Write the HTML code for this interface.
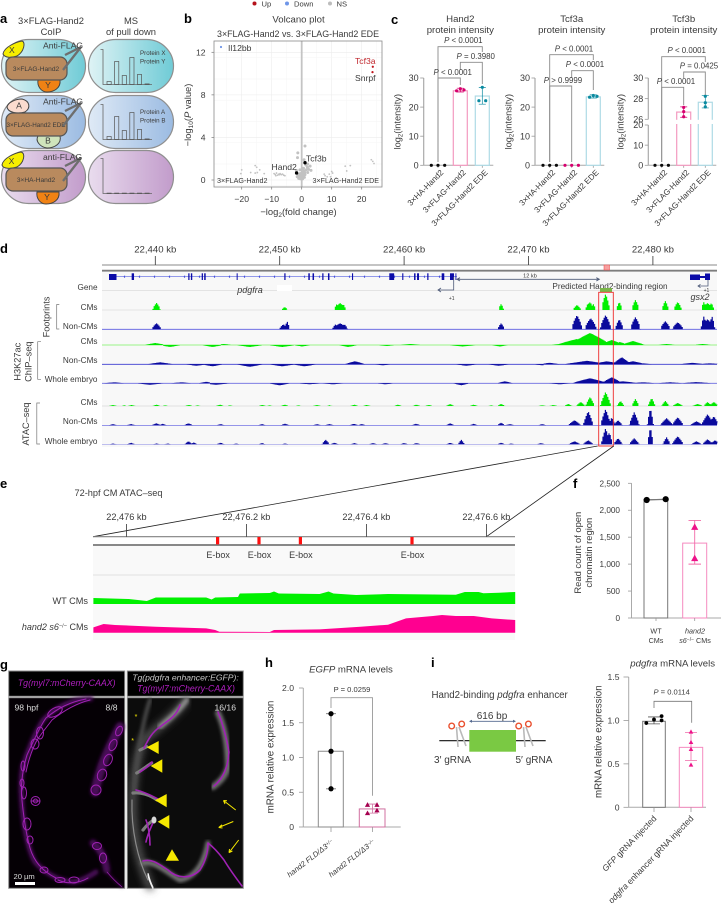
<!DOCTYPE html>
<html lang="en">
<head>
<meta charset="utf-8">
<title>Hand2 pdgfra enhancer figure</title>
<style>
html,body{margin:0;padding:0;background:#fff;width:721px;height:903px;overflow:hidden}
svg{display:block}
text{font-family:"Liberation Sans",Arial,sans-serif;font-size:8.6px;fill:#3a3a3a}
.pl{font-size:13px;font-weight:bold;fill:#000}
.t{font-size:9.4px}
.s{font-size:7.6px}
.m{text-anchor:middle}
.e{text-anchor:end}
.i{font-style:italic}
</style>
</head>
<body>
<svg id="figure" xmlns="http://www.w3.org/2000/svg" width="721" height="903" viewBox="0 0 721 903">
<defs>
<linearGradient id="g1"><stop offset="0" stop-color="#dff3f5"/><stop offset="1" stop-color="#6fcbd6"/></linearGradient>
<linearGradient id="g2"><stop offset="0" stop-color="#dfeaf6"/><stop offset="1" stop-color="#9bbbe2"/></linearGradient>
<linearGradient id="g3"><stop offset="0" stop-color="#e9dcee"/><stop offset="1" stop-color="#c29ccb"/></linearGradient>
<filter id="soft"><feGaussianBlur stdDeviation="0.35"/></filter>
<filter id="soft2"><feGaussianBlur stdDeviation="1.5"/></filter>
<filter id="soft3"><feGaussianBlur stdDeviation="4"/></filter>
</defs>
<rect width="721" height="903" fill="#fff"/>

<text class="pl" x="0" y="23">a</text>
<text class="pl" x="184" y="23">b</text>
<text class="pl" x="391" y="24">c</text>
<text class="pl" x="0" y="253">d</text>
<text class="pl" x="0" y="488">e</text>
<text class="pl" x="573" y="488">f</text>
<text class="pl" x="0" y="669">g</text>
<text class="pl" x="265" y="667">h</text>
<text class="pl" x="431" y="667">i</text>

<!-- PANEL A -->
<g id="panel-a">
<text class="t m" x="51" y="24">3×FLAG-Hand2</text>
<text class="t m" x="51" y="35">CoIP</text>
<text class="t m" x="131" y="24">MS</text>
<text class="t m" x="131" y="35">of pull down</text>

<rect x="1.5" y="39.5" width="84" height="53" rx="27" fill="url(#g1)" stroke="#8f8f8f" stroke-width="1.2"/>
<rect x="88.5" y="39.5" width="85" height="53" rx="27" fill="url(#g1)" stroke="#8f8f8f" stroke-width="1.2"/>
<rect x="1.5" y="95.5" width="84" height="53" rx="27" fill="url(#g2)" stroke="#8f8f8f" stroke-width="1.2"/>
<rect x="88.5" y="95.5" width="85" height="53" rx="27" fill="url(#g2)" stroke="#8f8f8f" stroke-width="1.2"/>
<rect x="1.5" y="150.5" width="84" height="53" rx="27" fill="url(#g3)" stroke="#8f8f8f" stroke-width="1.2"/>
<rect x="88.5" y="150.5" width="85" height="53" rx="27" fill="url(#g3)" stroke="#8f8f8f" stroke-width="1.2"/>

<path d="M3 54C4 47 16 42 22 41C26 42 24 52 17 56C11 58 5 58 3 54Z" fill="#f6ee00" stroke="#444" stroke-width="1"/>
<path d="M38 80H60C61 88 54 92 47 92C41 92 37 86 38 80Z" fill="#f08214" stroke="#444" stroke-width="1"/>
<rect x="6" y="57" width="61" height="23" rx="7" fill="#b98a5e" stroke="#555" stroke-width="1.2"/>
<text class="s m" x="36" y="71" style="font-size:6.6px">3×FLAG-Hand2</text>
<path d="M63 70L81 47L65 55" stroke="#6e6e6e" stroke-width="2.3" fill="none"/>
<text x="43" y="48.5">Anti-FLAG</text>

<path d="M7 107C8 102 16 99 22 99C30 101 31 108 25 112C18 114 8 113 7 107Z" fill="#fbdccf" stroke="#444" stroke-width="1"/>
<path d="M38 136H60C62 144 54 148 47 148C40 147 35 141 38 136Z" fill="#cfe4bb" stroke="#444" stroke-width="1"/>
<rect x="6" y="113" width="61" height="23" rx="7" fill="#b98a5e" stroke="#555" stroke-width="1.2"/>
<text class="s m" x="36" y="127" style="font-size:6.3px">3×FLAG-Hand2 EDE</text>
<path d="M63 126L81 103L65 111" stroke="#6e6e6e" stroke-width="2.3" fill="none"/>
<text x="43" y="104.5">Anti-FLAG</text>

<path d="M2 165C3 158 15 153 21 152C26 153 24 163 17 167C11 169 3 169 2 165Z" fill="#f6ee00" stroke="#444" stroke-width="1"/>
<path d="M37 192H59C60 200 53 204 46 204C40 204 36 198 37 192Z" fill="#f08214" stroke="#444" stroke-width="1"/>
<rect x="6" y="168" width="61" height="23" rx="7" fill="#b98a5e" stroke="#555" stroke-width="1.2"/>
<text class="s m" x="36" y="182" style="font-size:6.6px">3×HA-Hand2</text>
<path d="M63 181L81 158L65 166" stroke="#6e6e6e" stroke-width="2.3" fill="none"/>
<text x="43" y="160">anti-FLAG</text>

<text class="m" x="11.9" y="53">X</text>
<text class="m" x="48" y="88">Y</text>
<text class="m" x="19" y="108.5">A</text>
<text class="m" x="48" y="143.5">B</text>
<text class="m" x="11.5" y="164">X</text>
<text class="m" x="47" y="200">Y</text>

<text class="s" x="140" y="55" style="font-size:6.2px">Protein X</text>
<text class="s" x="140" y="63.5" style="font-size:6.2px">Protein Y</text>
<text class="s" x="140" y="114" style="font-size:6.2px">Protein A</text>
<text class="s" x="140" y="122.5" style="font-size:6.2px">Protein B</text>
</g>

<!-- PANEL B static -->
<g>
<circle cx="254.5" cy="3.5" r="2" fill="#b5121b"/>
<text x="261.5" y="6.5" style="font-size:7.6px">Up</text>
<circle cx="287" cy="3.5" r="2" fill="#6f96e8"/>
<text x="294" y="6.5" style="font-size:7.6px">Down</text>
<circle cx="330" cy="3.5" r="2" fill="#bdbdbd"/>
<text x="336.5" y="6.5" style="font-size:7.6px">NS</text>
</g>
<text class="t m" x="298.5" y="22.5" style="font-size:9.6px">Volcano plot</text>
<text class="t m" x="298" y="37" textLength="162" lengthAdjust="spacingAndGlyphs">3×FLAG-Hand2 vs. 3×FLAG-Hand2 EDE</text>
<text class="t m" transform="translate(191,115) rotate(-90)">−log<tspan dy="2" style="font-size:6.5px">10</tspan><tspan dy="-2">(</tspan><tspan class="i">P</tspan> value)</text>
<text class="t m" x="298.5" y="215" style="font-size:9.4px">−log<tspan dy="2" style="font-size:6.5px">2</tspan><tspan dy="-2">(fold change)</tspan></text>
<g id="volcano"></g>

<!-- PANEL C -->
<g id="panel-c"></g>

<!-- PANEL D -->
<g id="panel-d"></g>

<!-- PANEL E -->
<g id="panel-e"></g>

<!-- PANEL F -->
<g id="panel-f"></g>

<!-- PANEL G -->
<g id="panel-g">
<rect x="8.7" y="671" width="116" height="25.3" fill="#000" stroke="#8c8c8c" stroke-width="1"/>
<rect x="127.3" y="671" width="116" height="25.3" fill="#000" stroke="#8c8c8c" stroke-width="1"/>
<text class="i m" x="66.7" y="686" style="font-size:8.8px;fill:#b01fc0">Tg(myl7:mCherry-CAAX)</text>
<text class="i m" x="185.5" y="680.5" style="font-size:8.6px;fill:#c8c8c8">Tg(pdgfra enhancer:EGFP):</text>
<text class="i m" x="186" y="691.5" style="font-size:8.8px;fill:#b01fc0">Tg(myl7:mCherry-CAAX)</text>

<rect x="8.7" y="697.7" width="116" height="190.6" fill="#050005" stroke="#8c8c8c" stroke-width="1"/>
<g fill="none" stroke-linecap="round" stroke-linejoin="round">
<g stroke="#4a0e58" filter="url(#soft2)">
<path d="M90.7 698.7C72 699 57 706 43.3 720C36 731 28 750 22.7 766.7C20 782 21 800 24 823.3C27 842 31 855 35 862C44 872 58 881 73 882C82 881 90 876 96 872" stroke-width="5"/>
<path d="M120 726.7C114 738 107 752 101.7 766.7C99 776 96 784 95 792" stroke-width="9"/>
<path d="M93 843C101 850 105 858 106.7 870" stroke-width="7"/>
<path d="M107 872C112 878 116 882 122 887" stroke-width="1.5"/>
</g>
<g stroke="#a021b4" stroke-width="1" filter="url(#soft)">
<path d="M86 699C70 702 58 708 46 718C40 726 33 742 27 755C23 768 21 782 21.5 795C23 812 25 830 30 848C34 862 44 872 56 878"/>
<path d="M90 700C74 704 62 712 52 720C46 728 40 735 36 742C31 752 28 762 26 772"/>
<path d="M58 880C66 884 78 884 88 878"/>
<ellipse cx="55" cy="712" rx="8" ry="4" transform="rotate(-30 55 712)"/>
<ellipse cx="40" cy="733" rx="3.5" ry="6"/><ellipse cx="35" cy="744" rx="4" ry="5"/>
<ellipse cx="23" cy="766" rx="2" ry="5"/><ellipse cx="22" cy="783" rx="2" ry="4"/>
<circle cx="35.5" cy="801" r="4.5"/><circle cx="35.5" cy="801" r="2"/><path d="M31 801H40"/>
<ellipse cx="24" cy="793" rx="2.5" ry="6"/><ellipse cx="27" cy="824" rx="4" ry="6"/><ellipse cx="30" cy="840" rx="3" ry="4"/>
<ellipse cx="44" cy="870" rx="4" ry="3"/><ellipse cx="60" cy="880" rx="5" ry="2.5"/><ellipse cx="74" cy="880" rx="5" ry="3"/>
<ellipse cx="96" cy="790" rx="5" ry="5"/><ellipse cx="102" cy="775" rx="4.5" ry="6" transform="rotate(20 102 775)"/><ellipse cx="108" cy="760" rx="4" ry="6" transform="rotate(25 108 760)"/><ellipse cx="113" cy="745" rx="3.5" ry="6" transform="rotate(25 113 745)"/><ellipse cx="119" cy="731" rx="3" ry="5" transform="rotate(25 119 731)"/>
<ellipse cx="97" cy="846" rx="4.5" ry="3.5"/><ellipse cx="103" cy="858" rx="3.5" ry="5"/><path d="M107 872C112 878 116 882 122 887" stroke-width=".6"/>
</g>
</g>
<text x="14.5" y="710.5" style="font-size:8.6px;fill:#ddd">98 hpf</text>
<text class="e" x="117.5" y="710.5" style="font-size:8.6px;fill:#ddd">8/8</text>
<text x="13.5" y="879" style="font-size:7.6px;fill:#ddd">20 µm</text>
<rect x="15" y="882" width="20" height="3" fill="#fff"/>

<rect x="127.3" y="697.7" width="116" height="190.6" fill="#0c0c0c" stroke="#8c8c8c" stroke-width="1"/>
<g fill="none" stroke-linecap="round" stroke-linejoin="round">
<path d="M186 700C178 712 160 726 143 740C136 760 131 790 133 820C135 845 143 870 150 887" stroke="#5a5a5a" stroke-width="7" filter="url(#soft3)"/>
<path d="M150 700C143 720 138 750 134 790" stroke="#4a4a4a" stroke-width="4" filter="url(#soft2)"/>
<path d="M218 713C224 725 228 745 228 767C225 778 218 783 213 787" stroke="#6e6e6e" stroke-width="6" filter="url(#soft2)"/>
<path d="M133 793C141 792 150 795 157 800M143 830C146 826 150 822 154 820M136.7 773C142 770 147 766 151.7 763M140 750L146.7 746.7" stroke="#7c7c7c" stroke-width="3.2" filter="url(#soft)"/>
<path d="M143 863C155 860 170 875 180 880C192 878 203 868 208 843" stroke="#727272" stroke-width="5" filter="url(#soft2)"/>
<path d="M186.7 700C178 712 168 720 160 726.7" stroke="#8a8a8a" stroke-width="5" filter="url(#soft2)"/>
<path d="M132 800C131 830 138 860 148 880" stroke="#8a8a8a" stroke-width="1.2" filter="url(#soft)"/>
<path d="M148 874C149 879 151 884 153 888" stroke="#f2f2f2" stroke-width="1.8" filter="url(#soft)"/>
<path d="M180 705C176 718 165 722 160 727C152 732 148 740 144 748M140 772C146 768 150 765 152 762M136 790C145 792 152 796 158 799M146 842C148 832 152 826 154 820M143 861C152 858 160 865 168 870C176 878 190 880 200 870C205 862 208 852 208 843C212 846 218 852 224 860C230 870 236 878 242 886M218 712C222 722 226 735 229 752C228 766 224 778 214 786M150 845C150 835 148 825 146 820" stroke="#a021b4" stroke-width="1.6" filter="url(#soft)"/>
<ellipse cx="154" cy="820" rx="2.5" ry="3.5" fill="#d8d8d8" stroke="none"/>
</g>
<g fill="#f6e800">
<polygon points="146.7,747.3 158.7,741 158.7,754"/>
<polygon points="150.7,766 162.3,759.3 162.3,772.7"/>
<polygon points="155,800.3 166.7,794 166.7,807.3"/>
<polygon points="157.7,821.7 169.3,815 169.3,828.7"/>
<polygon points="165.7,860.7 172,849.3 179,860.7"/>
</g>
<g stroke="#f6e800" stroke-width="1" fill="none">
<path d="M235.7 810L223.5 800.5M223.5 800.5L225 804M223.5 800.5L227 800.8"/>
<path d="M233.3 821.5L218.7 827.5M218.7 827.5L222 824.8M218.7 827.5L222.5 828"/>
<path d="M238.7 840L229 852.7M229 852.7L229.5 849M229 852.7L232.4 851"/>
</g>
<text class="m" x="136" y="719" style="font-size:7px;fill:#f6e800">*</text>
<text class="m" x="132.6" y="743" style="font-size:7px;fill:#f6e800">*</text>
<text class="e" x="236" y="710.5" style="font-size:8.6px;fill:#ddd">16/16</text>
</g>

<!-- PANEL H -->
<text class="m" x="351" y="672.5" style="font-size:9.6px"><tspan class="i">EGFP</tspan> mRNA levels</text>
<g id="panel-h"></g>

<!-- PANEL I diagram -->
<g id="panel-i-diagram">
<text x="431.5" y="698" style="font-size:9.7px">Hand2-binding <tspan class="i">pdgfra</tspan> enhancer</text>
<line x1="439.3" y1="740.7" x2="545.7" y2="740.7" stroke="#111" stroke-width="1.2"/>
<rect x="469.3" y="730" width="46.7" height="21.7" fill="#7ac943"/>
<line x1="470" y1="721.3" x2="515" y2="721.3" stroke="#54698f" stroke-width=".8"/>
<polygon points="469,721.3 472,719.8 472,722.8" fill="#54698f"/>
<polygon points="516,721.3 513,719.8 513,722.8" fill="#54698f"/>
<text class="m" x="492" y="719" style="font-size:10px">616 bp</text>
<g fill="none">
<path d="M456.5 727L458 747M459 727L466 746" stroke="#b9b9b9" stroke-width="1.6"/>
<circle cx="451.7" cy="726" r="2.8" stroke="#e9502f" stroke-width="1.4"/><circle cx="461.7" cy="724" r="2.8" stroke="#e9502f" stroke-width="1.4"/>
</g>
<g fill="none">
<path d="M523.5 727L525 747M526 727L533 746" stroke="#b9b9b9" stroke-width="1.6"/>
<circle cx="518.7" cy="726" r="2.8" stroke="#e9502f" stroke-width="1.4"/><circle cx="528.4" cy="724" r="2.8" stroke="#e9502f" stroke-width="1.4"/>
</g>
<text x="434" y="763" style="font-size:10px">3′ gRNA</text>
<text x="515.5" y="763" style="font-size:10px">5′ gRNA</text>
</g>
<g id="panel-i"></g>

<script>
// ---------- PANEL B DATA ----------
const volcanoXTicks=[-20,-10,0,10,20];
const volcanoYTicks=[0,4,8,12];
const nsFoldChange=[-1.8,-1.2,-0.8,-0.5,-0.2,0,0.2,0.5,0.8,1.1,1.5,1.9,2.3,2.8,3.1,-1,-0.4,0.3,0.9,1.4,0.1,-0.6,0.6,1,-0.3,0.4,-1.5,2,-9.2,-8.8,-8.4,-8,-7.6,-7.2,-6.8,-6.4,-6,-5.6,-8.6,-7.4,-20,-20.3,-15.5,-15,-14,-17,-15.5,-14.8,-12.5,-1.3,1.1,-1.4,0.8,2,7.5,7.8,8.5,9.2,10,10.3,9.6,11.5,14.5,16.2,15,23.2,23.7,24.1];
const nsLogP=[0.9,0.5,0.35,0.6,0.2,0.45,0.7,0.3,0.85,0.5,0.95,1.2,1,1.3,0.9,0.15,0.1,0.1,0.25,1.4,1,0.95,1.1,0.7,0.6,0.55,0.3,0.7,0.6,0.5,0.65,0.45,0.55,0.6,0.5,0.55,0.45,0.4,0.4,0.5,0.95,0.6,1.35,1.2,0.95,0.7,0.65,0.7,0.6,2.55,3.2,2.1,1.9,1.5,0.55,0.4,0.3,0.55,0.8,0.65,0.3,0.2,1.3,1.35,0.85,1.9,1.75,1.55];
const upFoldChange=[23.7,23.6];
const upLogP=[10.64,10.14];
const downFoldChange=[-26.9];
const downLogP=[12.5];
const labelledFoldChange=[1.1,-1.7];
const labelledLogP=[1.62,0.66];

// ---------- PANEL C DATA ----------
const intensityCategories=['3×HA-Hand2','3×FLAG-Hand2','3×FLAG-Hand2 EDE'];
const intensityTicks=[0,10,20,30];
const tcf3bLowerTicks=[0,10,20];
const tcf3bUpperTicks=[26,28,30];
const hand2Means=[0,25.6,23.8];
const hand2Points=[[0,0,0],[25.6,26.3,25.9],[22.2,26.8,22.2]];
const hand2ErrorLow=[0,25.2,21];
const hand2ErrorHigh=[0,26.5,26.7];
const tcf3aMeans=[0,0,23.5];
const tcf3aPoints=[[0,0,0],[0,0,0],[23.4,24,23.7]];
const tcf3aErrorLow=[0,0,23.1];
const tcf3aErrorHigh=[0,0,24.2];
const tcf3bMeans=[0,26.7,27.65];
const tcf3bPoints=[[0,0,0],[27.16,26.74,26.25],[28.23,27.6,27.2]];
const tcf3bErrorLow=[0,26.2,27.1];
const tcf3bErrorHigh=[0,27.2,28.3];

// ---------- PANEL D DATA (kb relative to 22,440 kb) ----------
const genomeTicks=[22440,22450,22460,22470,22480];
const fpCmPos=[0.1,10.4,14.85,27.8,33.9,34.95,36.2,37.3,38.6,41,42,44.4,44.1,44.7,14.6,15.1,34.8,35.2,36.1,36.35];
const fpCmHeight=[7,3,7,6,5,8,16,8,10,9,8,7,8,7,6,6,7,6,10,8];
const fpCmWidth=[0.3,0.22,0.4,0.2,0.3,0.25,0.3,0.22,0.28,0.25,0.3,0.4,0.2,0.2,0.2,0.2,0.2,0.2,0.2,0.2];
const fpNonPos=[0.1,10.3,10.6,14.85,27.8,33.9,35,36.2,37.3,38.6,41,42,44.4,44.1,44.75,14.5,15.2];
const fpNonHeight=[6,5,8,6,6,14,11,14,10,12,8,7,10,13,13,5,5];
const fpNonWidth=[0.35,0.3,0.18,0.55,0.25,0.4,0.45,0.42,0.3,0.38,0.38,0.42,0.5,0.22,0.22,0.25,0.25];
const k27CmPos=[0,1.2,4.6,5.5,7.6,10.2,11.8,15.5,18.6,20.5,24.7,27.7,32.5,33.9,34.95,35.5,36,36.7,37.35,38.4,41.1,44];
const k27CmHeight=[2,-2,-2,1,-2,-2,-1.5,-2,-1,1,-1.5,-1.5,1,6,12,4,4,5,3,4,1,1];
const k27CmWidth=[0.8,0.8,0.8,0.6,1,1,0.6,0.7,0.6,0.8,1,0.6,0.6,1.6,1.6,1,0.8,0.9,0.6,0.9,0.6,0.6];
const k27NonPos=[0.4,3.3,4.6,7.6,10.2,12,16.05,18.3,25,27.6,31.1,31.7,33.9,34.7,36.3,37.5,38.4,39.2,43.2,44.6];
const k27NonHeight=[2,-1.5,-2,-2.5,-2,-2,3,-1,-1.5,-1.5,-1,1.5,2,3.5,3,7,3,1,1.5,1];
const k27NonWidth=[1,0.8,0.8,1,1,0.9,0.8,0.6,0.8,0.8,0.6,0.8,1,1.6,1.2,0.7,1,0.7,1,1];
const k27WholePos=[-3.3,-0.4,2.1,4.1,4.9,10,12.4,14.3,18.5,24.6,28.1,32.5,34.95,35.7,36.7,37.6,39.2,41.4,43.5];
const k27WholeHeight=[1,-1.5,1,1.5,-1.5,-2,-1,-1,-1,-2,2,-1,5,2,6,2,1,1,1.2];
const k27WholeWidth=[0.8,1,0.8,0.6,1,0.8,0.8,0.8,0.6,0.6,0.6,0.8,1.4,1.2,0.8,1.2,1,1,1.2];
const atacCmPos=[-3.4,-2.5,-1.9,0.1,0.8,2.7,3.4,5.2,6,8.6,9.2,10.4,11.5,13,14,16,17,19.5,21,22,23.7,25.6,27,27.8,31.1,32,33.2,34.2,34.95,36.2,37.4,38.6,39.9,41,42,43.6,44.4,44.9];
const atacCmHeight=[1,0.7,1,1.3,0.7,1,0.7,1.3,0.7,1,0.7,1.3,0.7,1,0.7,1.3,1,1.3,1.3,1,2,1.3,0.7,2,0.7,1,2,4,9,14,5,7,8,5,3,2,4,4];
const atacCmWidth=[0.3,0.2,0.3,0.3,0.2,0.3,0.2,0.3,0.2,0.3,0.2,0.3,0.2,0.3,0.2,0.3,0.3,0.3,0.3,0.3,0.3,0.3,0.2,0.3,0.3,0.3,0.3,0.35,0.35,0.42,0.28,0.28,0.28,0.3,0.4,0.4,0.3,0.35];
const atacNonPos=[-3.4,-1.95,0.08,0.6,2.67,5.25,8.58,10.43,13,14,15.97,16.6,20.96,23.7,25.6,27.8,28.5,31.1,33.7,34.8,36.2,36.7,37.2,38.5,39.8,41.1,42,43.5,44.4,44.9];
const atacNonHeight=[1.2,1.2,2,1.5,2,1.2,1.2,1.5,1.2,1.2,1.5,1.2,1.5,2,1.5,2.5,1.2,1.2,5,14,16,8,5,13,17,7,8,4,11,9];
const atacNonWidth=[0.3,0.35,0.35,0.3,0.35,0.3,0.3,0.35,0.3,0.35,0.35,0.3,0.35,0.3,0.3,0.3,0.35,0.3,0.5,0.4,0.4,0.25,0.35,0.4,0.25,0.5,0.45,0.5,0.5,0.4];
const atacWholePos=[-3.4,-1.95,0.1,1,2.67,3.1,5.25,6.5,8.58,10.43,13.7,14.4,16,17.5,18.5,20,21,23.7,24.6,27.8,28.6,31,33.7,34.8,36.2,36.5,37.2,38.5,39.8,41.1,42,43.5,44.4,45];
const atacWholeHeight=[0.8,1.5,0.8,0.8,3,1.8,1.5,0.8,1.2,0.8,4.5,1.5,1.2,1.2,1.2,1.2,1.2,1.5,4.5,1.5,0.8,1.2,3,4,16,12,6,6,17,7,8,3,5,4];
const atacWholeWidth=[0.25,0.3,0.25,0.25,0.3,0.25,0.3,0.25,0.25,0.25,0.3,0.3,0.3,0.3,0.3,0.3,0.3,0.3,0.25,0.3,0.25,0.3,0.45,0.4,0.35,0.25,0.35,0.4,0.22,0.3,0.45,0.4,0.4,0.4];
const exonStart=[-1.9,2.65,2.86,3.73,3.93,6.54,10.37,12.3,12.64,13.42,13.88,15.81,18.81,19.85,20.8,21.04,21.86,23.02,23.69,24.13];
const exonEnd=[-1.71,2.75,2.97,3.83,4.05,6.62,10.47,12.42,12.76,13.52,14,15.9,19.2,19.94,20.92,21.2,21.96,23.23,24.01,24.2];

// ---------- PANEL E DATA ----------
const zoomTicks=[0,200,400,600];
const zoomTickLabels=['22,476 kb','22,476.2 kb','22,476.4 kb','22,476.6 kb'];
const eBoxBp=[152,221,290,476];
const wtBp=[-55,4,34,49,133,142,148,186,189,239,246,254,322,337,345,383,436,549,564,587,595,621,648];
const wtSignal=[6,5,3,6.5,6.5,4.5,6.5,7,10.5,11,12.5,10.5,10,12.5,10.5,9,10,9.3,12,12,10.7,11.3,12];
const koBp=[-55,-38,-19,49,133,148,155,239,246,322,390,436,466,511,526,549,579,609,648];
const koSignal=[5.3,8.7,7.7,6,4.3,2.7,1,0.7,2.7,3.3,6,8,14.3,16.7,17.7,16.7,16.7,14.3,12.7];

// ---------- PANEL F DATA ----------
const readTicks=[0,500,1000,1500,2000,2500];
const readTickLabels=['0','500','1,000','1,500','2,000','2,500'];
const wtReads=[2190,2205];
const koReads=[1690,1110];
const wtReadMean=2197;
const koReadMean=1390;
const koReadErrorLow=1000;
const koReadErrorHigh=1810;

// ---------- PANEL H DATA ----------
const egfpTicks=[0,0.5,1,1.5,2];
const egfpTickLabels=['0','0.5','1.0','1.5','2.0'];
const egfpCtrlPoints=[1.63,1.09,0.55];
const egfpKoPoints=[0.32,0.32,0.2,0.24];
const egfpMeans=[1.09,0.26];
const egfpKoErrorLow=0.2;
const egfpKoErrorHigh=0.33;

// ---------- PANEL I DATA ----------
const pdgfraTicks=[0,0.5,1,1.5];
const pdgfraTickLabels=['0','0.5','1.0','1.5'];
const pdgfraCtrlPoints=[0.97,1.01,1.05,1.0];
const pdgfraKoPoints=[0.87,0.75,0.67,0.49];
const pdgfraMeans=[0.99,0.69];
const pdgfraErrLow=[0.96,0.54];
const pdgfraErrHigh=[1.04,0.86];

// ---------- HELPERS ----------
const SVGNS='http://www.w3.org/2000/svg';
function mk(tag,attrs,parent,txt){
  const el=document.createElementNS(SVGNS,tag);
  for(const k in attrs){el.setAttribute(k,attrs[k]);}
  if(txt!==undefined){el.textContent=txt;}
  parent.appendChild(el);
  return el;
}
function linear(d0,d1,r0,r1){return v=>r0+(v-d0)*(r1-r0)/(d1-d0);}
function tri(cx,cy,r){return (cx)+','+(cy-r)+' '+(cx-r)+','+(cy+r*.8)+' '+(cx+r)+','+(cy+r*.8);}

// ---------- PANEL B ----------
(function(){
  const g=document.getElementById('volcano');
  const x=linear(0,10,301.7,331.7);
  const y=linear(0,12,180,52.3);
  for(let v=-25;v<=25;v+=5){
    const gl=mk('line',{x1:x(v),x2:x(v),y1:41,y2:187,stroke:v%10===0?'#ececec':'#f6f6f6','stroke-width':.6},g);
    
    
  }
  for(let v=-0.5;v<=13;v+=2){
    const gl=mk('line',{x1:214,x2:382,y1:y(v),y2:y(v),stroke:'#f6f6f6','stroke-width':.6},g);
    
    
  }
  volcanoYTicks.forEach(v=>{
    const gl=mk('line',{x1:214,x2:382,y1:y(v),y2:y(v),stroke:'#ececec','stroke-width':.6},g);
    
    
    const tk=mk('line',{x1:211.5,x2:214,y1:y(v),y2:y(v),stroke:'#777','stroke-width':.7},g);
    
    
    const lb=mk('text',{x:205.5,y:y(v)+3,class:'e'},g,String(v));
    
    
  });
  volcanoXTicks.forEach(v=>{
    const tk=mk('line',{x1:x(v),x2:x(v),y1:187,y2:189.5,stroke:'#777','stroke-width':.7},g);
    
    
    const lb=mk('text',{x:x(v),y:202,class:'m'},g,String(v).replace('-','−'));
    
    
  });
  const zero=mk('line',{x1:x(0),x2:x(0),y1:41,y2:187,stroke:'#c4c4c4','stroke-width':1.8},g);
  
  
  nsFoldChange.forEach((fc,i)=>{
    const p=mk('circle',{cx:x(fc),cy:y(nsLogP[i]),r:Math.abs(fc)<4?1.5:0.9,fill:'#c2c2c2'},g);
    
    
  });
  upFoldChange.forEach((fc,i)=>{
    const p=mk('circle',{cx:x(fc),cy:y(upLogP[i]),r:1.1,fill:'#c0141c'},g);
    
    
  });
  downFoldChange.forEach((fc,i)=>{
    const p=mk('circle',{cx:x(fc),cy:y(downLogP[i]),r:1.1,fill:'#6f96e8'},g);
    
    
  });
  labelledFoldChange.forEach((fc,i)=>{
    const p=mk('circle',{cx:x(fc),cy:y(labelledLogP[i]),r:1.7,fill:'#000'},g);
    
    
  });
  const frame=mk('rect',{x:214,y:41,width:168,height:146,fill:'none',stroke:'#8a8a8a','stroke-width':.8},g);
  
  
  const l1=mk('text',{x:228,y:51},g,'Il12bb');
  
  
  const l2=mk('text',{x:355,y:64,style:'fill:#c0272d'},g,'Tcf3a');
  
  
  const l3=mk('text',{x:355,y:81},g,'Snrpf');
  
  
  const l4=mk('text',{x:306,y:161.5},g,'Tcf3b');
  
  
  const l5=mk('text',{x:271.5,y:170},g,'Hand2');
  
  
  const l6=mk('text',{x:217,y:183,style:'font-size:7.2px'},g,'3×FLAG-Hand2');
  
  
  const l7=mk('text',{x:379,y:183,class:'e',style:'font-size:7.1px'},g,'3×FLAG-Hand2 EDE');
  
  
})();

// ---------- PANEL C ----------
const barStroke=['#666','#f39ac0','#aedae5'];
const dotFill=['#0a0a0a','#d6006e','#0a8aa0'];
const dotSpreadWide=[-6.7,0,6.7];
const dotSpreadNarrow=[-3.7,0,3.7];
function drawIntensity(cfg){
  const g=document.getElementById('panel-c');
  const base=165.3;
  cfg.axisSegments.forEach(seg=>{
    const ax=mk('line',{x1:cfg.axisX,x2:cfg.axisX,y1:seg[0],y2:seg[1],stroke:'#aaa','stroke-width':1.2},g);
    
    
  });
  const xAxis=mk('line',{x1:cfg.axisX,x2:cfg.centers[2]+11,y1:base,y2:base,stroke:'#aaa','stroke-width':1},g);
  
  
  cfg.ticks.forEach(v=>{
    const tk=mk('line',{x1:cfg.axisX-3.5,x2:cfg.axisX,y1:cfg.y(v),y2:cfg.y(v),stroke:'#999','stroke-width':.8},g);
    
    
    const lb=mk('text',{x:cfg.axisX-5,y:cfg.y(v)+3.2,class:'e',style:'font-size:9px'},g,String(v));
    
    
  });
  intensityCategories.forEach((c,i)=>{
    const cx=cfg.centers[i];
    const lb=mk('text',{transform:'translate('+(cx+6)+',173) rotate(-45)',class:'e',style:'font-size:8.1px'},g,c);
    
    
    const tk=mk('line',{x1:cx,x2:cx,y1:base,y2:base+2.5,stroke:'#999','stroke-width':.8},g);
    
    
    if(cfg.means[i]>0){
      const b=mk('rect',{x:cx-7,y:cfg.y(cfg.means[i]),width:14,height:base-cfg.y(cfg.means[i]),fill:'#fff',stroke:barStroke[i],'stroke-width':1.2},g);
      
      
      const lc=dotFill[i];
      const e=mk('path',{d:'M'+(cx-3.5)+' '+cfg.y(cfg.errHigh[i])+'H'+(cx+3.5)+'M'+cx+' '+cfg.y(cfg.errHigh[i])+'V'+cfg.y(cfg.errLow[i])+'M'+(cx-3.5)+' '+cfg.y(cfg.errLow[i])+'H'+(cx+3.5),stroke:lc,'stroke-width':.7,fill:'none'},g);
      
      
    }
    cfg.points[i].forEach((v,j)=>{
      const off=(cfg.means[i]===0?dotSpreadWide:(cfg.spread?cfg.spread[i]:dotSpreadNarrow))[j];
      const d=mk('circle',{cx:cx+off,cy:cfg.y(v),r:1.6,fill:dotFill[i]},g);
      
      
    });
  });
  if(cfg.gap){
    const w=mk('rect',{x:cfg.centers[1]-9,y:cfg.gap[0],width:cfg.centers[2]-cfg.centers[1]+18,height:cfg.gap[1]-cfg.gap[0],fill:'#fff'},g);
    
    
  }
  cfg.brackets.forEach(b=>{
    const a=cfg.centers[b.from], c=cfg.centers[b.to];
    const p=mk('path',{d:'M'+a+' '+b.left+'V'+b.y+'H'+c+'V'+b.right,fill:'none',stroke:'#8a8a8a','stroke-width':.9},g);
    
    
    const t=mk('text',{x:b.tx,y:b.ty,class:'m',style:'font-size:7.9px'},g);
    
    
    const ts=mk('tspan',{class:'i'},t,'P');
    
    
    t.appendChild(document.createTextNode(' '+b.text));
  });
  const t1=mk('text',{x:cfg.centers[1],y:22,class:'m',style:'font-size:9.6px'},g,cfg.title);
  
  
  const t2=mk('text',{x:cfg.centers[1],y:33,class:'m',style:'font-size:9.6px'},g,'protein intensity');
  
  
  const yt=mk('text',{transform:'translate('+cfg.titleX+',121.7) rotate(-90)',class:'m',style:'font-size:9.2px'},g);
  
  
  yt.appendChild(document.createTextNode('log'));
  const sub=mk('tspan',{dy:2,style:'font-size:6px'},yt,'2');
  
  
  const rest=mk('tspan',{dy:-2},yt,'(intensity)');
  
  
}
const stdY=linear(0,30,165.3,78);
drawIntensity({name:'hand2',title:'Hand2',axisX:423.7,centers:[438,460.3,482.3],titleX:400.5,y:stdY,ticks:intensityTicks,
  axisSegments:[[165.3,78]],means:hand2Means,points:hand2Points,errLow:hand2ErrorLow,errHigh:hand2ErrorHigh,
  spread:[null,dotSpreadNarrow,[3.4,0,-3.4]],
  brackets:[{from:0,to:2,y:46.7,left:162,right:52,text:'< 0.0001',tx:463.3,ty:43},
            {from:1,to:2,y:62.3,left:70,right:84,text:'= 0.3980',tx:475.7,ty:59},
            {from:0,to:1,y:78,left:162,right:85,text:'< 0.0001',tx:452.7,ty:75}]});
drawIntensity({name:'tcf3a',title:'Tcf3a',axisX:535,centers:[549.7,571.7,593.3],titleX:511.5,y:stdY,ticks:intensityTicks,
  axisSegments:[[165.3,78]],means:tcf3aMeans,points:tcf3aPoints,errLow:tcf3aErrorLow,errHigh:tcf3aErrorHigh,
  brackets:[{from:0,to:2,y:54.7,left:162,right:60,text:'< 0.0001',tx:574,ty:51.5},
            {from:1,to:2,y:70.7,left:78,right:90,text:'< 0.0001',tx:585,ty:67},
            {from:0,to:1,y:86,left:162,right:162,text:'> 0.9999',tx:563,ty:83}]});
const tcf3bLow=linear(0,20,165.3,125);
const tcf3bHigh=linear(26,30,119.3,78);
function tcf3bY(v){return v<=20?tcf3bLow(v):tcf3bHigh(v);}
drawIntensity({name:'tcf3b',title:'Tcf3b',axisX:648.3,centers:[661.7,683.7,705.3],titleX:623.5,y:tcf3bY,ticks:tcf3bLowerTicks.concat(tcf3bUpperTicks),
  axisSegments:[[165.3,125],[119.3,78]],means:tcf3bMeans,points:tcf3bPoints,errLow:tcf3bErrorLow,errHigh:tcf3bErrorHigh,
  spread:[null,[0,0,0],[0,0,0]],gap:[119.8,124],
  brackets:[{from:0,to:2,y:56.7,left:162,right:62,text:'< 0.0001',tx:686.7,ty:53},
            {from:1,to:2,y:72,left:78,right:95,text:'= 0.0425',tx:699,ty:68.5},
            {from:0,to:1,y:87.3,left:162,right:105,text:'< 0.0001',tx:676,ty:84}]});

// ---------- PANEL D ----------
(function(){
  const g=document.getElementById('panel-d');
  const gx=linear(0,10,155.3,279.7);
  const kbX=kb=>gx(kb-22440);
  const L=102,R=717;
  const bg=mk('rect',{x:L,y:272,width:R-L,height:175,fill:'#f8f8f8'},g);
  
  
  const rA=mk('line',{x1:L,x2:R,y1:265,y2:265,stroke:'#8a8a8a','stroke-width':1},g);
  
  
  const rB=mk('line',{x1:L,x2:R,y1:270.7,y2:270.7,stroke:'#7d7d7d','stroke-width':1.8},g);
  
  
  const rowRule=mk('line',{x1:L,x2:R,y1:290.5,y2:290.5,stroke:'#dcdcdc','stroke-width':.8},g);
  
  
  genomeTicks.forEach(kb=>{
    const t=mk('line',{x1:kbX(kb),x2:kbX(kb),y1:256,y2:265,stroke:'#333','stroke-width':.8},g);
    
    
    const lb=mk('text',{x:kbX(kb),y:252.5,class:'m',style:'font-size:9.6px'},g,String(kb).replace(/(\d\d)(\d{3})/,'$1,$2')+' kb');
    
    
  });
  const mark=mk('rect',{x:604,y:265,width:5.5,height:5,fill:'#f7a0a0',stroke:'#e44',"stroke-width":.5},g);
  
  
  // gene models
  const geneLine=mk('line',{x1:109,x2:457,y1:276.7,y2:276.7,stroke:'#5560e0','stroke-width':.7},g);
  
  
  for(let px=124;px<450;px+=15){
    const ch=mk('path',{d:'M'+(px+1)+' 275.6L'+px+' 276.7L'+(px+1)+' 277.8',fill:'none',stroke:'#3540d8','stroke-width':.7},g);
    
    
  }
  const utr=mk('rect',{x:109,y:274,width:7.5,height:6,fill:'#0c0ca8'},g);
  
  
  exonStart.forEach((s,i)=>{
    const ex=mk('rect',{x:gx(s),y:273.3,width:gx(exonEnd[i])-gx(s),height:6.7,fill:'#0c0ca8'},g);
    
    
  });
  [[690,700,274.5,5.5],[700,705,276,2],[705,710,273.5,6.5]].forEach(b=>{
    const ex=mk('rect',{x:b[0],y:b[2],width:b[1]-b[0],height:b[3],fill:'#0c0ca8'},g);
    
    
  });
  const tss=mk('path',{d:'M453.7 277V290H438M441 288L438 290L441 292',fill:'none',stroke:'#4d5a78','stroke-width':.8},g);
  
  
  const tss2=mk('path',{d:'M708 280V286H698M700.5 284.3L698 286L700.5 287.7',fill:'none',stroke:'#4d5a78','stroke-width':.8},g);
  
  
  const span=mk('path',{d:'M457 279.3H599.3M460 277.7L457 279.3L460 281M596.3 277.7L599.3 279.3L596.3 281',fill:'none',stroke:'#4d5a78','stroke-width':.9},g);
  
  
  [['12 kb',530,277.5,'m','font-size:5.6px','twelve-kb-label'],
   ['+1',451.7,300,'m','font-size:5px','pdgfra-plus-one'],
   ['+1',706.5,292,'m','font-size:5px','gsx2-plus-one'],
   ['Predicted Hand2-binding region',610,289,'m','font-size:8.2px','predicted-region-label'],
   ['Gene',97.5,290,'e','font-size:8.2px','gene-row-label'],
   ['CMs',97.5,310,'e','font-size:8.2px','footprint-cms-label'],
   ['Non-CMs',97.5,329,'e','font-size:8.2px','footprint-non-cms-label'],
   ['CMs',97.5,344,'e','font-size:8.2px','chip-cms-label'],
   ['Non-CMs',97.5,363,'e','font-size:8.2px','chip-non-cms-label'],
   ['Whole embryo',97.5,382,'e','font-size:8.2px','chip-whole-embryo-label'],
   ['CMs',97.5,405,'e','font-size:8.2px','atac-cms-label'],
   ['Non-CMs',97.5,424,'e','font-size:8.2px','atac-non-cms-label'],
   ['Whole embryo',97.5,444,'e','font-size:8.2px','atac-whole-embryo-label']
  ].forEach(a=>{
    const t=mk('text',{x:a[1],y:a[2],class:a[3],style:a[4]},g,a[0]);
    
    
  });
  const gn=mk('text',{x:250,y:293,class:'m i',style:'font-size:9px'},g,'pdgfra');
  
  
  const gs=mk('text',{x:700,y:300,class:'m i',style:'font-size:9px'},g,'gsx2');
  
  
  const hbar=mk('rect',{x:600,y:288,width:12,height:4,fill:'#7ab648'},g);
  
  
  const blank=mk('rect',{x:277,y:285,width:15,height:6,fill:'#fff'},g);
  
  
  // tracks
  function track(name,base,col,lineCol,lineW,pos,hts,wid,shape){
    const sepLine=mk('line',{x1:L,x2:R,y1:base,y2:base,stroke:lineCol,'stroke-width':lineW},g);
    
    
    let d='M'+L+' '+base;
    const step=1.2;
    for(let px=L;px<=R;px+=step){
      const kb=(px+step/2-155.3)/12.44;
      let s=0;
      pos.forEach((p,i)=>{
        const t=1-Math.abs(kb-p)/wid[i];
        if(t>0){
          const v=hts[i]*Math.pow(t,shape);
          if(Math.abs(v)>Math.abs(s)){s=v;}
        }
      });
      const yy=(base-s).toFixed(2);
      d+='L'+px.toFixed(1)+' '+yy+'L'+(px+step).toFixed(1)+' '+yy;
    }
    d+='L'+R+' '+base+'Z';
    const sig=mk('path',{d:d,fill:col},g);
    
    
  }
  track('footprint-cms',310,'#00f000','#dcdcdc',.8,fpCmPos,fpCmHeight,fpCmWidth,.6);
  track('footprint-non-cms',329.3,'#0a0a9c','#5a5ae0',.8,fpNonPos,fpNonHeight,fpNonWidth,.6);
  track('chip-cms',345,'#00e800','#b9f5ae',1.6,k27CmPos,k27CmHeight,k27CmWidth,.8);
  track('chip-non-cms',364.3,'#0a0a9c','#3a3ad0',.9,k27NonPos,k27NonHeight,k27NonWidth,.8);
  track('chip-whole-embryo',383.3,'#0a0a9c','#6a6ae0',.8,k27WholePos,k27WholeHeight,k27WholeWidth,.8);
  track('atac-cms',406,'#00e800','#c8c8c8',.6,atacCmPos,atacCmHeight,atacCmWidth,.8);
  track('atac-non-cms',425.3,'#0a0a9c','#5a5ae0',.7,atacNonPos,atacNonHeight,atacNonWidth,.8);
  track('atac-whole-embryo',444.3,'#0a0a9c','#9a9ae8',.7,atacWholePos,atacWholeHeight,atacWholeWidth,.8);
  // brackets & rotated labels
  [['M59.3 304.5H56.7V329H59.3','footprints-bracket'],['M41 341.7H37.7V379.3H41','chip-bracket'],['M40 403H36.8V444H40','atac-bracket']].forEach(a=>{
    const b=mk('path',{d:a[0],fill:'none',stroke:'#777','stroke-width':.7},g);
    
    
  });
  [['Footprints',49.5,317,'footprints-label'],['H3K27ac',20.5,361.7,'h3k27ac-label'],['ChIP–seq',31.5,361.7,'chip-seq-label'],['ATAC–seq',29,424,'atac-seq-label']].forEach(a=>{
    const t=mk('text',{transform:'translate('+a[1]+','+a[2]+') rotate(-90)',class:'m',style:'font-size:9.2px'},g,a[0]);
    
    
  });
  const box=mk('rect',{x:598.7,y:292.3,width:14.6,height:153.7,fill:'none',stroke:'#ee2b2b','stroke-width':.9},g);
  
  
})();

// ---------- PANEL E ----------
(function(){
  const g=document.getElementById('panel-e');
  const bpX=linear(0,200,126.4,246.4);
  const L=93,R=515;
  const z1=mk('line',{x1:597.7,y1:446,x2:L,y2:536.7,stroke:'#222','stroke-width':.8},g);
  
  
  const z2=mk('line',{x1:613.8,y1:446,x2:486.4,y2:536.7,stroke:'#222','stroke-width':.8},g);
  
  
  const ti=mk('text',{x:74.5,y:496,style:'font-size:9.2px'},g,'72-hpf CM ATAC–seq');
  
  
  const bg=mk('rect',{x:L,y:546,width:R-L,height:94,fill:'#f9f9f9'},g);
  
  
  const r1=mk('line',{x1:L,x2:R,y1:536.7,y2:536.7,stroke:'#808080','stroke-width':1.2},g);
  
  
  const r2=mk('line',{x1:L,x2:R,y1:545,y2:545,stroke:'#777','stroke-width':1.8},g);
  
  
  const r3=mk('line',{x1:L,x2:R,y1:575,y2:575,stroke:'#d8d8d8','stroke-width':.8},g);
  
  
  zoomTicks.forEach((bp,i)=>{
    const t=mk('line',{x1:bpX(bp),x2:bpX(bp),y1:524,y2:536.7,stroke:'#333','stroke-width':.8},g);
    
    
    const lb=mk('text',{x:bpX(bp),y:520,class:'m',style:'font-size:9.2px'},g,zoomTickLabels[i]);
    
    
  });
  eBoxBp.forEach(bp=>{
    const b=mk('rect',{x:bpX(bp)-1.6,y:537,width:3.2,height:7.4,fill:'#ff1010'},g);
    
    
    const lb=mk('text',{x:bpX(bp)+.5,y:558,class:'m',style:'font-size:9px'},g,'E-box');
    
    
  });
  function area(name,base,col,xs,ys){
    let d='M'+bpX(xs[0])+' '+base;
    xs.forEach((b,i)=>{d+='L'+bpX(b).toFixed(1)+' '+(base-ys[i]).toFixed(1);});
    d+='L'+bpX(xs[xs.length-1])+' '+base+'Z';
    const p=mk('path',{d:d,fill:col},g);
    
    
  }
  area('wt-cms-signal',604,'#00f000',wtBp,wtSignal);
  area('hand2-mutant-signal',632.7,'#ff0090',koBp,koSignal);
  const l1=mk('text',{x:88,y:604,class:'e',style:'font-size:9.2px'},g,'WT CMs');
  
  
  const l2=mk('text',{x:88,y:630,class:'e',style:'font-size:9px'},g);
  
  
  const l2a=mk('tspan',{class:'i'},l2,'hand2 s6');
  
  
  const l2b=mk('tspan',{dy:-2.5,style:'font-size:5.6px'},l2,'−/−');
  
  
  const l2c=mk('tspan',{dy:2.5},l2,' CMs');
  
  
})();

// ---------- PANEL F ----------
(function(){
  const g=document.getElementById('panel-f');
  const y=linear(0,2500,618,483.3);
  const ax=mk('line',{x1:631.5,x2:631.5,y1:618,y2:483.3,stroke:'#aaa','stroke-width':1},g);
  
  
  const bx=mk('line',{x1:631.5,x2:721,y1:618,y2:618,stroke:'#aaa','stroke-width':1},g);
  
  
  readTicks.forEach((v,i)=>{
    const t=mk('line',{x1:628,x2:631.5,y1:y(v),y2:y(v),stroke:'#999','stroke-width':.8},g);
    
    
    const lb=mk('text',{x:620,y:y(v)+3,class:'e',style:'font-size:8.2px'},g,readTickLabels[i]);
    
    
  });
  const wb=mk('rect',{x:644,y:y(wtReadMean),width:23.7,height:618-y(wtReadMean),fill:'#fff',stroke:'#777','stroke-width':1},g);
  
  
  const kb=mk('rect',{x:682.7,y:y(koReadMean),width:24,height:618-y(koReadMean),fill:'#fff',stroke:'#f58abf','stroke-width':1},g);
  
  
  const err=mk('path',{d:'M688.5 '+y(koReadErrorHigh)+'H701M694.7 '+y(koReadErrorHigh)+'V'+y(koReadErrorLow)+'M688.5 '+y(koReadErrorLow)+'H701',fill:'none',stroke:'#f26aa8','stroke-width':.9},g);
  
  
  const errw=mk('line',{x1:646.7,x2:665.7,y1:y(wtReads[0]),y2:y(wtReads[1]),stroke:'#777','stroke-width':1.2},g);
  
  
  const wx=[646.7,665.7];
  wtReads.forEach((v,i)=>{
    const d=mk('circle',{cx:wx[i],cy:y(v),r:3.1,fill:'#000'},g);
    
    
  });
  koReads.forEach(v=>{
    const d=mk('polygon',{points:tri(694.7,y(v),3.6),fill:'#ee1289'},g);
    
    
  });
  [656,694.7].forEach(x=>{
    const t=mk('line',{x1:x,x2:x,y1:618,y2:621,stroke:'#999','stroke-width':.8},g);
    
    
  });
  [['WT',656,633.5,'read-count-wt-label-1',''],['CMs',656,643,'read-count-wt-label-2',''],['hand2',695,633.5,'read-count-mutant-label-1','font-style:italic']].forEach(a=>{
    const t=mk('text',{x:a[1],y:a[2],class:'m',style:'font-size:7.2px;'+a[4]},g,a[0]);
    
    
  });
  const l=mk('text',{x:695,y:643,class:'m',style:'font-size:7.2px'},g);
  
  
  const la=mk('tspan',{class:'i'},l,'s6');
  
  
  const lb2=mk('tspan',{dy:-2,style:'font-size:5px'},l,'−/−');
  
  
  const lc=mk('tspan',{dy:2},l,' CMs');
  
  
  const t1=mk('text',{transform:'translate(581,552.7) rotate(-90)',class:'m',style:'font-size:9.4px'},g,'Read count of open');
  
  
  const t2=mk('text',{transform:'translate(592,552.7) rotate(-90)',class:'m',style:'font-size:9.4px'},g,'chromatin region');
  
  
})();

// ---------- PANEL H ----------
(function(){
  const g=document.getElementById('panel-h');
  const y=linear(0,2,827,688);
  const ax=mk('line',{x1:303.3,x2:303.3,y1:827,y2:688,stroke:'#aaa','stroke-width':1},g);
  
  
  const bx=mk('line',{x1:303.3,x2:400.7,y1:827,y2:827,stroke:'#aaa','stroke-width':1},g);
  
  
  egfpTicks.forEach((v,i)=>{
    const t=mk('line',{x1:299,x2:303.3,y1:y(v),y2:y(v),stroke:'#999','stroke-width':.8},g);
    
    
    const lb=mk('text',{x:294,y:y(v)+3,class:'e'},g,egfpTickLabels[i]);
    
    
  });
  const yt=mk('text',{transform:'translate(273.5,757) rotate(-90)',class:'m',style:'font-size:9.8px'},g,'mRNA relative expression');
  
  
  const b0=mk('rect',{x:318.3,y:y(egfpMeans[0]),width:25,height:827-y(egfpMeans[0]),fill:'#fff',stroke:'#8a8a8a','stroke-width':1},g);
  
  
  const b1=mk('rect',{x:359.3,y:y(egfpMeans[1]),width:25.7,height:827-y(egfpMeans[1]),fill:'#fff',stroke:'#d070a0','stroke-width':1},g);
  
  
  const e0=mk('path',{d:'M326 '+y(egfpCtrlPoints[0])+'H336M331 '+y(egfpCtrlPoints[0])+'V'+y(egfpCtrlPoints[2])+'M326 '+y(egfpCtrlPoints[2])+'H336',fill:'none',stroke:'#777','stroke-width':.9},g);
  
  
  const e1=mk('path',{d:'M367 '+y(egfpKoErrorHigh)+'H378M372.5 '+y(egfpKoErrorHigh)+'V'+y(egfpKoErrorLow)+'M367 '+y(egfpKoErrorLow)+'H378',fill:'none',stroke:'#d070a0','stroke-width':.8},g);
  
  
  egfpCtrlPoints.forEach(v=>{
    const d=mk('circle',{cx:331,cy:y(v),r:2.6,fill:'#000'},g);
    
    
  });
  const koOffset=[-5,4.5,-5,4.5];
  egfpKoPoints.forEach((v,i)=>{
    const d=mk('polygon',{points:tri(372.5+koOffset[i],y(v),2.6),fill:'#a5004f'},g);
    
    
  });
  const br=mk('path',{d:'M331 708V697.7H372.5V795.7',fill:'none',stroke:'#999','stroke-width':.9},g);
  
  
  const pv=mk('text',{x:352,y:692,class:'m',style:'font-size:7.6px'},g,'P = 0.0259');
  
  
  [331,372.5].forEach((x,i)=>{
    const t=mk('line',{x1:x,x2:x,y1:827,y2:832,stroke:'#999','stroke-width':.8},g);
    
    
    const lb=mk('text',{transform:'translate('+(x+3)+',843) rotate(-38)',class:'e i',style:'font-size:7.6px'},g);
    
    
    lb.appendChild(document.createTextNode('hand2 FLD/Δ3'));
    const sup=mk('tspan',{dy:-2,style:'font-size:5px'},lb,i===0?'+/−':'−/−');
    
    
  });
})();

// ---------- PANEL I ----------
(function(){
  const g=document.getElementById('panel-i');
  const y=linear(0,1.5,807.3,677);
  const ax=mk('line',{x1:628.7,x2:628.7,y1:807.3,y2:677,stroke:'#aaa','stroke-width':1},g);
  
  
  const bx=mk('line',{x1:628.7,x2:706,y1:807.3,y2:807.3,stroke:'#aaa','stroke-width':1},g);
  
  
  pdgfraTicks.forEach((v,i)=>{
    const t=mk('line',{x1:623.5,x2:628.7,y1:y(v),y2:y(v),stroke:'#999','stroke-width':.8},g);
    
    
    const lb=mk('text',{x:619.5,y:y(v)+3,class:'e'},g,pdgfraTickLabels[i]);
    
    
  });
  const yt=mk('text',{transform:'translate(601.5,741.7) rotate(-90)',class:'m',style:'font-size:9.8px'},g,'mRNA relative expression');
  
  
  const ti=mk('text',{x:672.7,y:666.5,class:'m',style:'font-size:9.6px'},g);
  
  
  const tia=mk('tspan',{class:'i'},ti,'pdgfra');
  
  
  ti.appendChild(document.createTextNode(' mRNA levels'));
  const b0=mk('rect',{x:642.7,y:y(pdgfraMeans[0]),width:22.6,height:807.3-y(pdgfraMeans[0]),fill:'#fff',stroke:'#777','stroke-width':1},g);
  
  
  const b1=mk('rect',{x:679.3,y:y(pdgfraMeans[1]),width:23.4,height:807.3-y(pdgfraMeans[1]),fill:'#fff',stroke:'#f58abf','stroke-width':1},g);
  
  
  const ca=[654,691],cl=['#555','#ef6aa8'];
  ca.forEach((x,i)=>{
    const e=mk('path',{d:'M'+(x-6)+' '+y(pdgfraErrHigh[i])+'H'+(x+6)+'M'+x+' '+y(pdgfraErrHigh[i])+'V'+y(pdgfraErrLow[i])+'M'+(x-6)+' '+y(pdgfraErrLow[i])+'H'+(x+6),fill:'none',stroke:cl[i],'stroke-width':.8},g);
    
    
    const t=mk('line',{x1:x,x2:x,y1:807.3,y2:812,stroke:'#999','stroke-width':.8},g);
    
    
  });
  const ctrlOffset=[-7.7,0,7.6,7.6];
  pdgfraCtrlPoints.forEach((v,i)=>{
    const d=mk('circle',{cx:654+ctrlOffset[i],cy:y(v),r:1.9,fill:'#000'},g);
    
    
  });
  pdgfraKoPoints.forEach(v=>{
    const d=mk('polygon',{points:tri(691,y(v),2.3),fill:'#ee1289'},g);
    
    
  });
  const br=mk('path',{d:'M654 708V701.3H691.7V722.7',fill:'none',stroke:'#777','stroke-width':.8},g);
  
  
  const pv=mk('text',{x:671.7,y:694.5,class:'m',style:'font-size:7.6px'},g);
  
  
  const pa=mk('tspan',{class:'i'},pv,'P');
  
  
  pv.appendChild(document.createTextNode(' = 0.0114'));
  const l1=mk('text',{transform:'translate(657,819) rotate(-46)',class:'e',style:'font-size:8.5px'},g);
  
  
  const l1a=mk('tspan',{class:'i'},l1,'GFP');
  
  
  l1.appendChild(document.createTextNode(' gRNA injected'));
  const l2=mk('text',{transform:'translate(694,819) rotate(-46)',class:'e',style:'font-size:8.5px'},g);
  
  
  const l2a=mk('tspan',{class:'i'},l2,'pdgfra');
  
  
  l2.appendChild(document.createTextNode(' enhancer gRNA injected'));
})();

// ---------- PANEL A mini MS bars ----------
const msBarHeightsSample=[3,23,9,27,10,0.6];
const msBarHeightsEde=[3,23,9,27,10,0.6];
const msBarHeightsControl=[0.4,0.4,0.4,0.4,0.4,0.4];
(function(){
  const g=document.getElementById('panel-a');
  const barX=i=>107+i*7.6;
  function mini(name,base,vals){
    const ax=mk('path',{d:'M100.5 '+(base-35)+'H103V'+base+'H152',fill:'none',stroke:'#666','stroke-width':.8},g);
    
    
    vals.forEach((v,i)=>{
      const b=mk('rect',{x:barX(i),y:base-v,width:4.2,height:v,fill:'none',stroke:'#555','stroke-width':.7},g);
      
      
    });
  }
  mini('ms-sample',84.5,msBarHeightsSample);
  mini('ms-ede',139.5,msBarHeightsEde);
  mini('ms-control',193.5,msBarHeightsControl);
})();
</script>
</svg>
</body>
</html>
